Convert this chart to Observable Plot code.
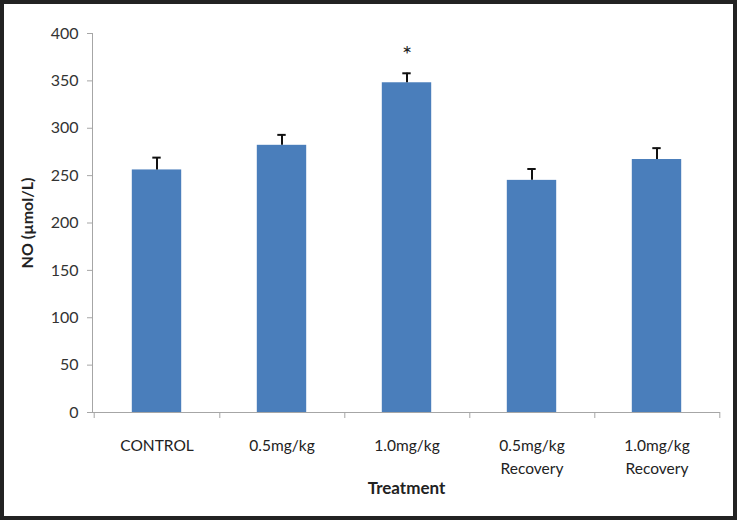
<!DOCTYPE html>
<html>
<head>
<meta charset="utf-8">
<script src="https://cdn.jsdelivr.net/npm/d3@7"></script>
<script src="https://cdn.jsdelivr.net/npm/@observablehq/plot@0.6"></script>
<style>
  html, body { margin: 0; padding: 0; background: #fff; }
  #wrap { position: relative; width: 737px; height: 520px; }
  #border { position: absolute; left: 0; top: 0; width: 737px; height: 520px; box-sizing: border-box; border: 4px solid #222; pointer-events: none; }
  svg { display: block; }
</style>
</head>
<body>
<div id="wrap"><div id="border"></div></div>
<script>
const categories = ["CONTROL", "0.5mg/kg", "1.0mg/kg", "0.5mg/kg\nRecovery", "1.0mg/kg\nRecovery"];
const values = [256, 282, 348, 245, 267];
const errors = [13, 11, 10, 12, 12];
const marks = ["", "", "*", "", ""];
const yTicks = [0, 50, 100, 150, 200, 250, 300, 350, 400];

const data = categories.map((c, i) => ({cat: c, v: values[i], e: errors[i], m: marks[i]}));

const W = 737, H = 520, ML = 92, MR = 17, MT = 33, MB = 108;
const step = (W - ML - MR) / categories.length;
const barW = 50;
const inset = (step - barW) / 2;
const capInset = (step - 9) / 2;
const axisColor = "#a6a6a6";
const font = "Lato, 'Open Sans', sans-serif";

const chart = Plot.plot({
  width: W, height: H,
  marginLeft: ML, marginRight: MR, marginTop: MT, marginBottom: MB,
  style: {fontFamily: font, background: "transparent", color: "#333"},
  x: {domain: categories, padding: 0, label: null},
  y: {domain: [0, 400], label: null},
  marks: [
    Plot.barY(data, {x: "cat", y: "v", fill: "#4a7ebb", insetLeft: inset, insetRight: inset}),
    Plot.ruleX(data, {x: "cat", y1: "v", y2: d => d.v + d.e, stroke: "#111", strokeWidth: 2}),
    Plot.tickY(data, {x: "cat", y: d => d.v + d.e, stroke: "#111", strokeWidth: 2, insetLeft: capInset, insetRight: capInset}),
    Plot.text(data, {x: "cat", y: d => d.v + d.e, text: "m", dy: -18, fontSize: 24, fill: "#222"}),
    Plot.frame({anchor: "left", stroke: axisColor}),
    Plot.ruleY([0], {stroke: axisColor}),
    Plot.axisY({ticks: yTicks, tickSize: 5, tickPadding: 9, stroke: axisColor, fontSize: 16, fill: "#333", label: null}),
    Plot.axisX({tickSize: 0, tickPadding: 22, fontSize: 15.5, lineHeight: 1.5, fill: "#222", label: null}),
    Plot.axisX({tickSize: 6, text: null, dx: step / 2, stroke: axisColor, label: null}),
    Plot.axisX([categories[0]], {tickSize: 6, text: null, dx: -step / 2, stroke: axisColor, label: null}),
    Plot.text(["Treatment"], {frameAnchor: "bottom", lineAnchor: "middle", textAnchor: "middle", dy: 76, text: d => d, fontWeight: "bold", fontSize: 17, fill: "#222"}),
    Plot.text(["NO (µmol/L)"], {frameAnchor: "left", textAnchor: "middle", lineAnchor: "middle", dx: -65, rotate: -90, text: d => d, fontWeight: "bold", fontSize: 16, fill: "#222"})
  ]
});
document.getElementById("wrap").prepend(chart);
</script>
</body>
</html>
